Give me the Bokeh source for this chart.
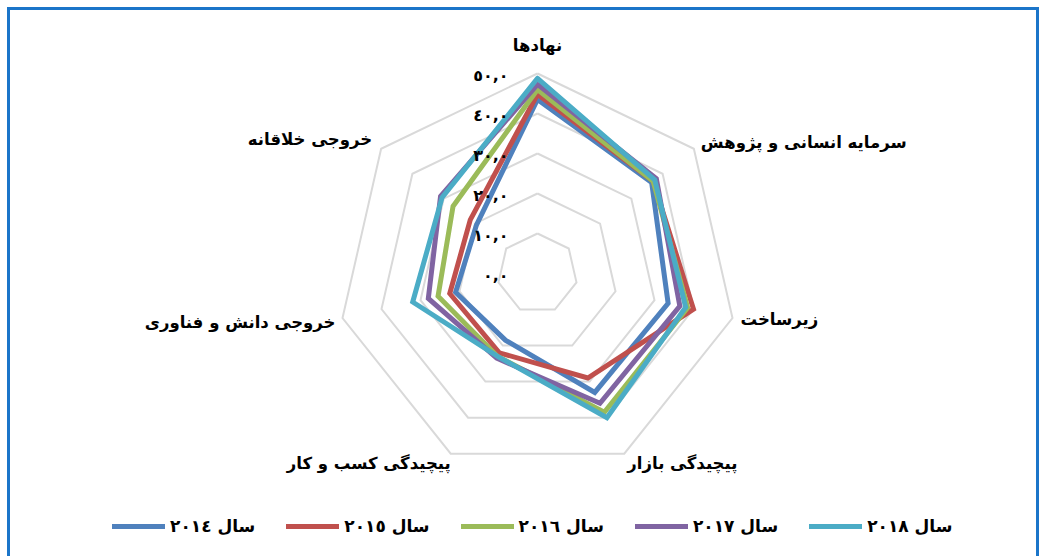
import numpy as np
from bokeh.plotting import figure
from bokeh.models import Range1d, Legend, LegendItem
from bokeh.core.properties import value
from bokeh.embed import file_html
from bokeh.resources import INLINE

categories = ["نهادها", "سرمایه انسانی و پژوهش", "زیرساخت", "پیچیدگی بازار",
              "پیچیدگی کسب و کار", "خروجی دانش و فناوری", "خروجی خلاقانه"]
years = ["سال ٢٠١٤", "سال ٢٠١٥", "سال ٢٠١٦", "سال ٢٠١٧", "سال ٢٠١٨"]
v2014 = [43.5, 36.5, 33.5, 33.0, 18.5, 21.0, 19.5]
v2015 = [44.8, 37.0, 40.0, 29.0, 22.0, 22.5, 21.5]
v2016 = [46.0, 37.0, 38.5, 38.5, 23.0, 25.5, 27.0]
v2017 = [47.3, 38.0, 36.5, 36.0, 23.5, 28.0, 31.0]
v2018 = [48.8, 37.5, 38.0, 40.0, 23.0, 32.0, 30.5]
series = [v2014, v2015, v2016, v2017, v2018]
ticks = [0, 10, 20, 30, 40, 50]
tick_labels = ["٠,٠", "١٠,٠", "٢٠,٠", "٣٠,٠", "٤٠,٠", "٥٠,٠"]
colors = ["#4F81BD", "#C0504D", "#9BBB59", "#8064A2", "#4BACC6"]

W, H = 1040, 556
CX, CY = 537, 273      # centre in canvas px (from top-left)
S = 4.0                # px per unit
FONT = "DejaVu Sans"

p = figure(width=W, height=H, output_backend="svg", toolbar_location=None,
           x_range=Range1d(-CX / S, (W - CX) / S),
           y_range=Range1d(-(H - CY) / S, CY / S),
           x_axis_type=None, y_axis_type=None, min_border=0,
           background_fill_color="white", border_fill_color="white")
p.grid.visible = False
p.outline_line_color = None

# frame border (left, top, right) in canvas px converted to data units
def px_x(x):
    return (x - CX) / S

def px_y(y):
    return (CY - y) / S

p.line([px_x(8), px_x(8), px_x(1037), px_x(1037)],
       [px_y(H + 10), px_y(8), px_y(8), px_y(H + 10)],
       line_color="#1B75C9", line_width=3, line_join="miter")

n = len(categories)
theta = np.arange(n) * 2 * np.pi / n
sx, sy = np.sin(theta), np.cos(theta)

def closed(vals):
    v = np.asarray(vals, dtype=float)
    xs = list(v * sx) + [v[0] * sx[0]]
    ys = list(v * sy) + [v[0] * sy[0]]
    return xs, ys

for t in ticks[1:]:
    xs, ys = closed([t] * n)
    p.line(xs, ys, line_color="#D9D9D9", line_width=2, line_join="miter")

items = []
for vals, col, lab in zip(series, colors, years):
    xs, ys = closed(vals)
    r = p.line(xs, ys, line_color=col, line_width=5, line_join="miter", line_cap="round")
    items.append(LegendItem(label=lab, renderers=[r]))

# tick labels
p.text(x=[0] * len(ticks), y=ticks, text=tick_labels, x_offset=-29, y_offset=2,
       text_align="right", text_baseline="middle", text_font=value(FONT),
       text_font_style="bold", text_font_size="16px", text_color="black")

# category labels
R = ticks[-1]
lx = list(R * sx)
ly = list(R * sy)
xo = [0, 7, 8, 3, 0, -7, -9]
yo = [-28, -6, 1, 10, 10, 4, -9]
al = ["center", "left", "left", "left", "right", "right", "right"]
p.text(x=lx, y=ly, text=categories, x_offset=xo, y_offset=yo, text_align=al,
       text_baseline="middle", text_font=value(FONT), text_font_style="bold",
       text_font_size="16.5px", text_color="black")

legend = Legend(items=items, orientation="horizontal", location=(112, 20),
                glyph_width=53, glyph_height=20, label_standoff=5, spacing=31,
                padding=0, margin=0, border_line_color=None, background_fill_alpha=0,
                label_text_font=FONT, label_text_font_style="bold",
                label_text_font_size="17px", label_text_color="black")
p.add_layout(legend)

open("out.html", "w").write(file_html(p, INLINE))
